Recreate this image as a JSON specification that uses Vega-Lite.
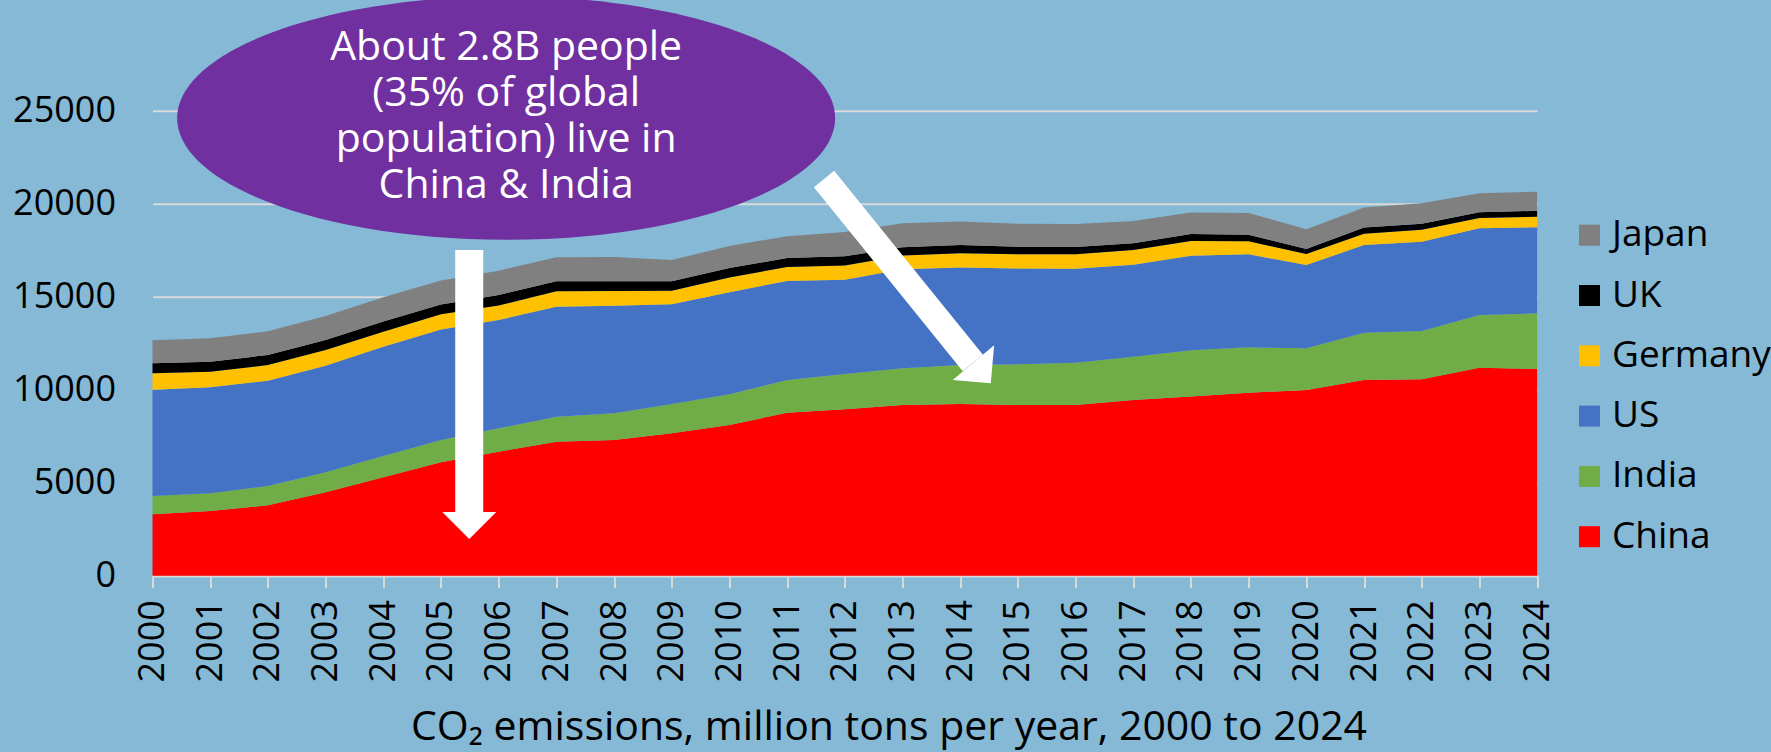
{
  "$schema": "https://vega.github.io/schema/vega-lite/v6.json",
  "width": 1384.6,
  "height": 465,
  "autosize": {"type": "none"},
  "padding": {"left": 152.5, "top": 110.7, "right": 234, "bottom": 176.3},
  "background": "#85B9D6",
  "config": {"view": {"stroke": null}, "font": "Open Sans"},
  "layer": [
    {
      "data": {"values": [
        {"year":2000,"country":"China","value":3301},{"year":2000,"country":"India","value":984},{"year":2000,"country":"US","value":5715},{"year":2000,"country":"Germany","value":881},{"year":2000,"country":"UK","value":538},{"year":2000,"country":"Japan","value":1236},
        {"year":2001,"country":"China","value":3478},{"year":2001,"country":"India","value":952},{"year":2001,"country":"US","value":5698},{"year":2001,"country":"Germany","value":839},{"year":2001,"country":"UK","value":538},{"year":2001,"country":"Japan","value":1257},
        {"year":2002,"country":"China","value":3785},{"year":2002,"country":"India","value":1037},{"year":2002,"country":"US","value":5661},{"year":2002,"country":"Germany","value":844},{"year":2002,"country":"UK","value":538},{"year":2002,"country":"Japan","value":1274},
        {"year":2003,"country":"China","value":4484},{"year":2003,"country":"India","value":1075},{"year":2003,"country":"US","value":5731},{"year":2003,"country":"Germany","value":844},{"year":2003,"country":"UK","value":537},{"year":2003,"country":"Japan","value":1290},
        {"year":2004,"country":"China","value":5290},{"year":2004,"country":"India","value":1145},{"year":2004,"country":"US","value":5876},{"year":2004,"country":"Germany","value":807},{"year":2004,"country":"UK","value":552},{"year":2004,"country":"Japan","value":1296},
        {"year":2005,"country":"China","value":6096},{"year":2005,"country":"India","value":1199},{"year":2005,"country":"US","value":5935},{"year":2005,"country":"Germany","value":830},{"year":2005,"country":"UK","value":520},{"year":2005,"country":"Japan","value":1290},
        {"year":2006,"country":"China","value":6666},{"year":2006,"country":"India","value":1258},{"year":2006,"country":"US","value":5822},{"year":2006,"country":"Germany","value":784},{"year":2006,"country":"UK","value":561},{"year":2006,"country":"Japan","value":1306},
        {"year":2007,"country":"China","value":7204},{"year":2007,"country":"India","value":1344},{"year":2007,"country":"US","value":5914},{"year":2007,"country":"Germany","value":828},{"year":2007,"country":"UK","value":535},{"year":2007,"country":"Japan","value":1291},
        {"year":2008,"country":"China","value":7295},{"year":2008,"country":"India","value":1434},{"year":2008,"country":"US","value":5781},{"year":2008,"country":"Germany","value":790},{"year":2008,"country":"UK","value":530},{"year":2008,"country":"Japan","value":1300},
        {"year":2009,"country":"China","value":7654},{"year":2009,"country":"India","value":1576},{"year":2009,"country":"US","value":5370},{"year":2009,"country":"Germany","value":715},{"year":2009,"country":"UK","value":510},{"year":2009,"country":"Japan","value":1147},
        {"year":2010,"country":"China","value":8102},{"year":2010,"country":"India","value":1649},{"year":2010,"country":"US","value":5489},{"year":2010,"country":"Germany","value":790},{"year":2010,"country":"UK","value":510},{"year":2010,"country":"Japan","value":1190},
        {"year":2011,"country":"China","value":8763},{"year":2011,"country":"India","value":1758},{"year":2011,"country":"US","value":5329},{"year":2011,"country":"Germany","value":750},{"year":2011,"country":"UK","value":480},{"year":2011,"country":"Japan","value":1170},
        {"year":2012,"country":"China","value":8944},{"year":2012,"country":"India","value":1899},{"year":2012,"country":"US","value":5072},{"year":2012,"country":"Germany","value":761},{"year":2012,"country":"UK","value":494},{"year":2012,"country":"Japan","value":1305},
        {"year":2013,"country":"China","value":9177},{"year":2013,"country":"India","value":1971},{"year":2013,"country":"US","value":5332},{"year":2013,"country":"Germany","value":734},{"year":2013,"country":"UK","value":446},{"year":2013,"country":"Japan","value":1284},
        {"year":2014,"country":"China","value":9230},{"year":2014,"country":"India","value":2097},{"year":2014,"country":"US","value":5243},{"year":2014,"country":"Germany","value":760},{"year":2014,"country":"UK","value":449},{"year":2014,"country":"Japan","value":1261},
        {"year":2015,"country":"China","value":9177},{"year":2015,"country":"India","value":2186},{"year":2015,"country":"US","value":5147},{"year":2015,"country":"Germany","value":767},{"year":2015,"country":"UK","value":411},{"year":2015,"country":"Japan","value":1237},
        {"year":2016,"country":"China","value":9177},{"year":2016,"country":"India","value":2274},{"year":2016,"country":"US","value":5054},{"year":2016,"country":"Germany","value":772},{"year":2016,"country":"UK","value":393},{"year":2016,"country":"Japan","value":1240},
        {"year":2017,"country":"China","value":9446},{"year":2017,"country":"India","value":2328},{"year":2017,"country":"US","value":4946},{"year":2017,"country":"Germany","value":790},{"year":2017,"country":"UK","value":359},{"year":2017,"country":"Japan","value":1201},
        {"year":2018,"country":"China","value":9640},{"year":2018,"country":"India","value":2475},{"year":2018,"country":"US","value":5088},{"year":2018,"country":"Germany","value":787},{"year":2018,"country":"UK","value":380},{"year":2018,"country":"Japan","value":1155},
        {"year":2019,"country":"China","value":9838},{"year":2019,"country":"India","value":2440},{"year":2019,"country":"US","value":4999},{"year":2019,"country":"Germany","value":703},{"year":2019,"country":"UK","value":354},{"year":2019,"country":"Japan","value":1171},
        {"year":2020,"country":"China","value":9983},{"year":2020,"country":"India","value":2242},{"year":2020,"country":"US","value":4478},{"year":2020,"country":"Germany","value":591},{"year":2020,"country":"UK","value":269},{"year":2020,"country":"Japan","value":1059},
        {"year":2021,"country":"China","value":10521},{"year":2021,"country":"India","value":2543},{"year":2021,"country":"US","value":4715},{"year":2021,"country":"Germany","value":611},{"year":2021,"country":"UK","value":330},{"year":2021,"country":"Japan","value":1075},
        {"year":2022,"country":"China","value":10558},{"year":2022,"country":"India","value":2597},{"year":2022,"country":"US","value":4801},{"year":2022,"country":"Germany","value":644},{"year":2022,"country":"UK","value":325},{"year":2022,"country":"Japan","value":1095},
        {"year":2023,"country":"China","value":11182},{"year":2023,"country":"India","value":2833},{"year":2023,"country":"US","value":4661},{"year":2023,"country":"Germany","value":554},{"year":2023,"country":"UK","value":314},{"year":2023,"country":"Japan","value":1013},
        {"year":2024,"country":"China","value":11112},{"year":2024,"country":"India","value":2994},{"year":2024,"country":"US","value":4624},{"year":2024,"country":"Germany","value":570},{"year":2024,"country":"UK","value":315},{"year":2024,"country":"Japan","value":1029}
      ]},
      "transform": [
        {"calculate": "indexof(['China','India','US','Germany','UK','Japan'], datum.country)", "as": "stackOrder"}
      ],
      "mark": {"type": "area", "interpolate": "linear"},
      "encoding": {
        "x": {
          "field": "year", "type": "quantitative",
          "scale": {"domain": [2000, 2024], "nice": false, "zero": false},
          "axis": {
            "values": [2000,2001,2002,2003,2004,2005,2006,2007,2008,2009,2010,2011,2012,2013,2014,2015,2016,2017,2018,2019,2020,2021,2022,2023,2024],
            "format": "d",
            "labelAngle": 270,
            "labelFont": "Open Sans",
            "labelFontSize": 36,
            "labelFontWeight": 500,
            "labelColor": "#000000",
            "labelPadding": 12,
            "labelOverlap": false,
            "labelFlush": false,
            "labelBound": false,
            "tickSize": 12,
            "tickColor": "#D9D9D9",
            "tickWidth": 2,
            "domainColor": "#D9D9D9",
            "domainWidth": 2,
            "grid": false,
            "title": "CO₂ emissions, million tons per year, 2000 to 2024",
            "titleFont": "Open Sans",
            "titleFontSize": 41,
            "titleFontWeight": 500,
            "titleColor": "#000000",
            "titleX": 736,
            "titleY": 164,
            "titleAlign": "center",
            "titleBaseline": "alphabetic"
          }
        },
        "y": {
          "field": "value", "type": "quantitative", "aggregate": "sum", "stack": "zero",
          "scale": {"domain": [0, 25000], "nice": false},
          "axis": {
            "values": [0, 5000, 10000, 15000, 20000, 25000],
            "format": "d",
            "labelFont": "Open Sans",
            "labelFontSize": 36,
            "labelFontWeight": 500,
            "labelColor": "#000000",
            "labelPadding": 37,
            "labelOverlap": false,
            "ticks": false,
            "domain": false,
            "grid": true,
            "gridColor": "#D9D9D9",
            "gridWidth": 2,
            "title": null
          }
        },
        "color": {
          "field": "country", "type": "nominal",
          "scale": {
            "domain": ["Japan", "UK", "Germany", "US", "India", "China"],
            "range": ["#808080", "#000000", "#FFC000", "#4472C4", "#70AD47", "#FF0000"]
          },
          "legend": {
            "orient": "none",
            "legendX": 1418.5,
            "legendY": 106,
            "title": null,
            "symbolType": "square",
            "symbolSize": 441,
            "symbolOpacity": 1,
            "symbolStrokeWidth": 0,
            "labelFont": "Open Sans",
            "labelFontSize": 37,
            "labelFontWeight": 500,
            "labelColor": "#000000",
            "labelOffset": 4,
            "rowPadding": 22.3
          }
        },
        "order": {"field": "stackOrder", "type": "quantitative", "sort": "ascending"}
      }
    },
    {
      "data": {"values": [{"year": 2006.13, "value": 24606}]},
      "mark": {"type": "point", "filled": true, "opacity": 1, "color": "#7030A0", "size": 432964, "shape": "M -1 0 A 1 0.37 0 1 1 1 0 A 1 0.37 0 1 1 -1 0 Z"},
      "encoding": {
        "x": {"field": "year", "type": "quantitative"},
        "y": {"field": "value", "type": "quantitative"}
      }
    },
    {
      "data": {"values": [{"year": 2006.13, "value": 28369, "label": "About 2.8B people\n(35% of global\npopulation) live in\nChina & India"}]},
      "mark": {"type": "text", "font": "Open Sans", "fontSize": 41, "fontWeight": 500, "color": "#FFFFFF", "align": "center", "baseline": "middle", "lineHeight": 46, "lineBreak": "\n"},
      "encoding": {
        "x": {"field": "year", "type": "quantitative"},
        "y": {"field": "value", "type": "quantitative"},
        "text": {"field": "label"}
      }
    },
    {
      "data": {"values": [{"year": 2005.49, "value": 17510, "year2": 2005.49, "value2": 3424}]},
      "mark": {"type": "rule", "color": "#FFFFFF", "strokeWidth": 28, "strokeCap": "butt"},
      "encoding": {
        "x": {"field": "year", "type": "quantitative"},
        "y": {"field": "value", "type": "quantitative"},
        "x2": {"field": "year2"},
        "y2": {"field": "value2"}
      }
    },
    {
      "data": {"values": [{"year": 2005.49, "value": 2699}]},
      "mark": {"type": "point", "filled": true, "opacity": 1, "color": "#FFFFFF", "size": 2916, "shape": "M -1 -0.5 L 1 -0.5 L 0 0.5 Z"},
      "encoding": {
        "x": {"field": "year", "type": "quantitative"},
        "y": {"field": "value", "type": "quantitative"}
      }
    },
    {
      "data": {"values": [{"year": 2011.64, "value": 21327, "year2": 2014.22, "value2": 11435}]},
      "mark": {"type": "rule", "color": "#FFFFFF", "strokeWidth": 26, "strokeCap": "butt"},
      "encoding": {
        "x": {"field": "year", "type": "quantitative"},
        "y": {"field": "value", "type": "quantitative"},
        "x2": {"field": "year2"},
        "y2": {"field": "value2"}
      }
    },
    {
      "data": {"values": [{"year": 2014.38, "value": 10897}]},
      "mark": {"type": "point", "filled": true, "opacity": 1, "color": "#FFFFFF", "size": 2916, "angle": 320, "shape": "M -1 -0.5 L 1 -0.5 L 0 0.5 Z"},
      "encoding": {
        "x": {"field": "year", "type": "quantitative"},
        "y": {"field": "value", "type": "quantitative"}
      }
    }
  ]
}
